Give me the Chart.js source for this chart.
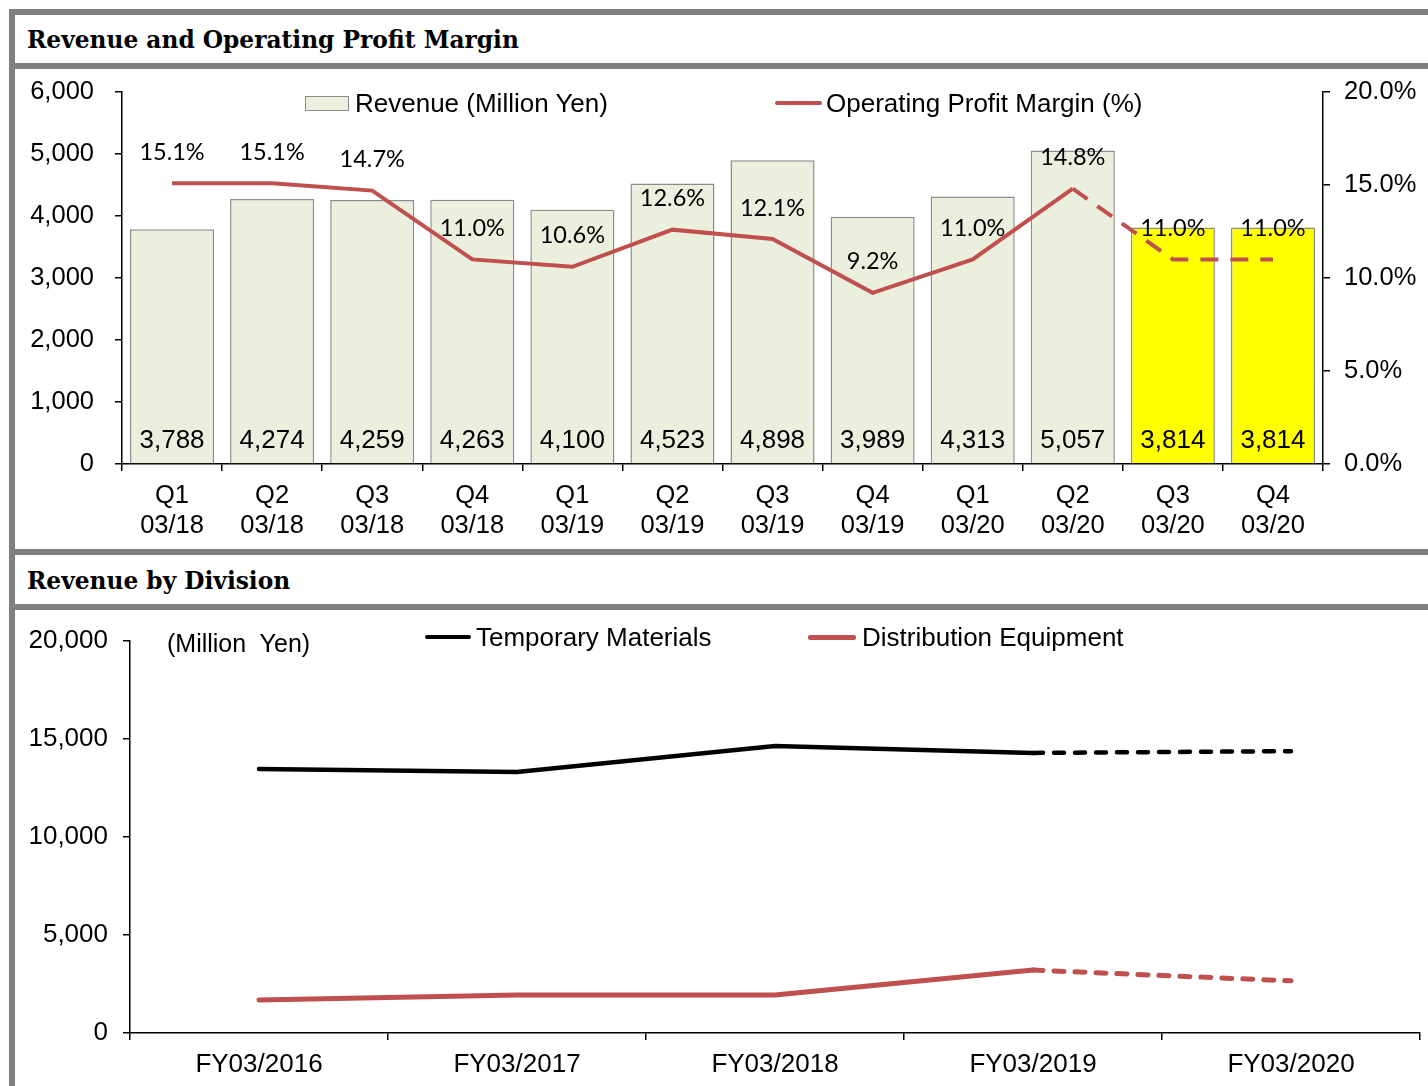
<!DOCTYPE html>
<html>
<head>
<meta charset="utf-8">
<script src="https://cdn.jsdelivr.net/npm/chart.js@4/dist/chart.umd.min.js"></script>
<style>
  html, body { margin: 0; padding: 0; background: #fff; width: 1428px; height: 1086px; overflow: hidden; }
  .abs { position: absolute; }
  .frameL { left: 9px; top: 9px; width: 6px; height: 1077px; background: #808080; }
  .sep { left: 9px; width: 1419px; height: 6px; background: #808080; }
  .title { left: 27px; font-family: "DejaVu Serif", serif; font-weight: bold; font-size: 23.3px; color: #000; white-space: nowrap; line-height: 1; }
  .leg { font-family: "Liberation Sans", Arial, sans-serif; font-size: 26px; color: #000; white-space: nowrap; line-height: 1; }
</style>
</head>
<body>
<div class="abs frameL"></div>
<div class="abs sep" style="top:9px;"></div>
<div class="abs title" style="top:28px;">Revenue and Operating Profit Margin</div>
<div class="abs sep" style="top:63px;"></div>
<div class="abs sep" style="top:549px;"></div>
<div class="abs title" style="top:569px;">Revenue by Division</div>
<div class="abs sep" style="top:604px;"></div>

<div class="abs" style="left:15px; top:69px; width:1413px; height:480px;">
  <canvas id="c1" width="1413" height="480"></canvas>
</div>
<div class="abs" style="left:15px; top:610px; width:1413px; height:476px;">
  <canvas id="c2" width="1413" height="476"></canvas>
</div>

<!-- legends -->
<div class="abs" style="left:305px; top:96px; width:42px; height:13px; background:#EBEFDE; border:1px solid #8C8C8C;"></div>
<div class="abs leg" style="left:355px; top:90px;">Revenue (Million Yen)</div>
<div class="abs" style="left:775px; top:101px; width:47px; height:4px; background:#C0504D; border-radius:2px;"></div>
<div class="abs leg" style="left:826px; top:90px;">Operating Profit Margin (%)</div>

<div class="abs leg" style="left:167px; top:631px; font-size:25px;">(Million&nbsp; Yen)</div>
<div class="abs" style="left:425px; top:635px; width:46px; height:4px; background:#000; border-radius:2px;"></div>
<div class="abs leg" style="left:476px; top:624px;">Temporary Materials</div>
<div class="abs" style="left:808px; top:635px; width:48px; height:5px; background:#C0504D; border-radius:2px;"></div>
<div class="abs leg" style="left:862px; top:624px;">Distribution Equipment</div>

<script>
// ---------- Data: top chart ----------
const quarters = ['Q1','Q2','Q3','Q4','Q1','Q2','Q3','Q4','Q1','Q2','Q3','Q4'];
const periods  = ['03/18','03/18','03/18','03/18','03/19','03/19','03/19','03/19','03/20','03/20','03/20','03/20'];
const revenue  = [3788, 4274, 4259, 4263, 4100, 4523, 4898, 3989, 4313, 5057, 3814, 3814];
const margin   = [15.1, 15.1, 14.7, 11.0, 10.6, 12.6, 12.1, 9.2, 11.0, 14.8, 11.0, 11.0];
const forecastStart = 10;      // first forecast bar index
const revenueTicks = [0, 6000, 1000];   // min, max, step
const marginTicks  = [0, 20, 5];

// ---------- Data: bottom chart ----------
const years        = ['FY03/2016','FY03/2017','FY03/2018','FY03/2019','FY03/2020'];
const temporary    = [13470, 13320, 14640, 14290, 14380];
const distribution = [1680, 1940, 1940, 3210, 2660];
const divisionTicks = [0, 20000, 5000];
const divisionForecastStart = 4;

const sansFont = "'Liberation Sans', Arial, sans-serif";
const fmt = n => n.toLocaleString('en-US');

const labelPlugin = {
  id: 'valueLabels',
  afterDatasetsDraw(chart) {
    const ctx = chart.ctx;
    ctx.save();
    ctx.textAlign = 'center';
    ctx.textBaseline = 'middle';
    ctx.fillStyle = '#000';
    chart.data.datasets.forEach((ds, di) => {
      const meta = chart.getDatasetMeta(di);
      if (!ds.showValues) return;
      meta.data.forEach((el, i) => {
        if (ds.type === 'bar') {
          ctx.font = "26px " + sansFont;
          ctx.fillText(fmt(ds.data[i]), el.x, el.base - 22);
        } else {
          ctx.font = "23.5px Lato, 'Open Sans', sans-serif";
          ctx.fillText(ds.data[i].toFixed(1) + '%', el.x, el.y - 31);
        }
      });
    });
    ctx.restore();
  }
};

Chart.defaults.font.family = sansFont;
Chart.defaults.color = '#000';

// vertical axes: fixed width, and no extra label padding on top/bottom
const fixV = w => s => { s.width = w; s.paddingTop = 0; s.paddingBottom = 0; };

new Chart(document.getElementById('c1'), {
  type: 'bar',
  data: {
    labels: quarters.map((q, i) => [q, periods[i]]),
    datasets: [
      {
        type: 'line',
        label: 'Operating Profit Margin (%)',
        data: margin,
        yAxisID: 'y2',
        borderColor: '#C0504D',
        borderWidth: 4,
        pointRadius: 0,
        tension: 0,
        order: 0,
        showValues: true,
        segment: {
          borderDash: c => c.p0DataIndex >= forecastStart - 1 ? [18, 12] : undefined
        }
      },
      {
        type: 'bar',
        label: 'Revenue (Million Yen)',
        data: revenue,
        yAxisID: 'y',
        backgroundColor: revenue.map((v, i) => i >= forecastStart ? '#FFFF00' : '#EBEFDE'),
        borderColor: '#8C8C8C',
        borderWidth: 1.5,
        barPercentage: 0.84,
        categoryPercentage: 1.0,
        order: 1,
        showValues: true
      }
    ]
  },
  options: {
    responsive: false,
    animation: false,
    devicePixelRatio: 1,
    layout: { padding: { top: 23, left: 0, right: 0, bottom: 0 } },
    plugins: { legend: { display: false }, tooltip: { enabled: false } },
    scales: {
      x: {
        offset: true,
        grid: { offset: true, drawOnChartArea: false, drawTicks: true, tickLength: 7, color: '#000', lineWidth: 1.5 },
        border: { color: '#000', width: 1.5 },
        ticks: { font: { size: 25.5, lineHeight: '30px' }, padding: 10, maxRotation: 0, autoSkip: false },
        afterFit: s => { s.height = 85; }
      },
      y: {
        position: 'left',
        min: revenueTicks[0], max: revenueTicks[1],
        ticks: { stepSize: revenueTicks[2], font: { size: 25.5 }, padding: 21, callback: v => fmt(v) },
        grid: { drawOnChartArea: false, tickLength: 7, color: '#000', lineWidth: 1.5 },
        border: { color: '#000', width: 1.5 },
        afterFit: fixV(107)
      },
      y2: {
        position: 'right',
        min: marginTicks[0], max: marginTicks[1],
        ticks: { stepSize: marginTicks[2], font: { size: 25.5 }, padding: 14, callback: v => v.toFixed(1) + '%' },
        grid: { drawOnChartArea: false, tickLength: 7, color: '#000', lineWidth: 1.5 },
        border: { color: '#000', width: 1.5 },
        afterFit: fixV(105)
      }
    }
  },
  plugins: [labelPlugin]
});

const dashSeg = c => c.p0DataIndex >= divisionForecastStart - 1 ? [10, 11] : undefined;

new Chart(document.getElementById('c2'), {
  type: 'line',
  data: {
    labels: years,
    datasets: [
      {
        label: 'Temporary Materials',
        data: temporary,
        borderColor: '#000',
        borderWidth: 4.5,
        borderCapStyle: 'round',
        pointRadius: 0,
        tension: 0,
        segment: { borderDash: dashSeg }
      },
      {
        label: 'Distribution Equipment',
        data: distribution,
        borderColor: '#C0504D',
        borderWidth: 5,
        borderCapStyle: 'round',
        pointRadius: 0,
        tension: 0,
        segment: { borderDash: dashSeg }
      }
    ]
  },
  options: {
    responsive: false,
    animation: false,
    devicePixelRatio: 1,
    layout: { padding: { top: 31, left: 0, right: 8, bottom: 0 } },
    plugins: { legend: { display: false }, tooltip: { enabled: false } },
    scales: {
      x: {
        offset: true,
        grid: { offset: true, drawOnChartArea: false, tickLength: 7, color: '#000', lineWidth: 1.5 },
        border: { color: '#000', width: 1.5 },
        ticks: { font: { size: 26 }, padding: 9, maxRotation: 0, autoSkip: false },
        afterFit: s => { s.height = 53; }
      },
      y: {
        min: divisionTicks[0], max: divisionTicks[1],
        ticks: { stepSize: divisionTicks[2], font: { size: 26 }, padding: 15, callback: v => fmt(v) },
        grid: { drawOnChartArea: false, tickLength: 7, color: '#000', lineWidth: 1.5 },
        border: { color: '#000', width: 1.5 },
        afterFit: fixV(115)
      }
    }
  }
});
</script>
</body>
</html>
